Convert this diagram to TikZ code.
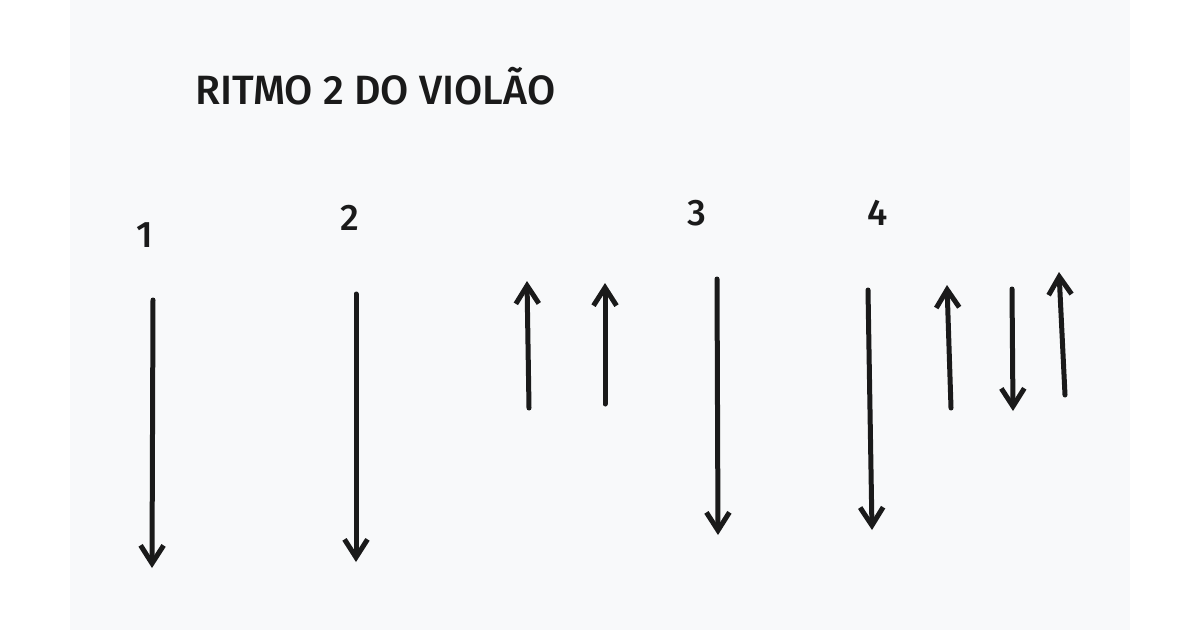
\documentclass[tikz,border=0pt]{standalone}
\usepackage{fontspec}
\setmainfont{Fira Sans Medium}
\usetikzlibrary{arrows.meta}
\definecolor{panelgray}{RGB}{248,249,250}
\definecolor{inkblack}{RGB}{26,26,26}

\begin{document}
\begin{tikzpicture}[x=0.02cm,y=-0.02cm,>={Straight Barb[length=0.36cm,width=0.46cm]},
	strum/.style={->,draw=inkblack,line width=0.1cm,line cap=round,line join=round},
	beat/.style={text=inkblack,font=\fontsize{21}{24}\selectfont,inner sep=0pt}]
	  \useasboundingbox (0,0) rectangle (1200,630);
	  \fill[white] (0,0) rectangle (1200,630);
	  \fill[panelgray] (70,0) rectangle (1130,630);

	  \node[anchor=base west,text=inkblack,inner sep=0pt,font=\fontsize{23.3}{28}\selectfont] (title) at (195,104) {RITMO 2 DO VIOLÃO};

	  \node[beat] (n1) at (145,235) {1};
	  \node[beat] (n2) at (350,218) {2};
	  \node[beat] (n3) at (697,213) {3};
	  \node[beat] (n4) at (878,213) {4};

	  % ends of the strokes
	  \coordinate (d1s) at (153,300);  \coordinate (d1e) at (152,568);
	  \coordinate (d2s) at (356,294);  \coordinate (d2e) at (356,562);
	  \coordinate (u1s) at (529,408);  \coordinate (u1e) at (527,281);
	  \coordinate (u2s) at (605,404);  \coordinate (u2e) at (605,283);
	  \coordinate (d3s) at (717,279);  \coordinate (d3e) at (718,535);
	  \coordinate (d4s) at (868,290);  \coordinate (d4e) at (872,530);
	  \coordinate (u3s) at (951,408);  \coordinate (u3e) at (947,285);
	  \coordinate (d5s) at (1012,289); \coordinate (d5e) at (1013,411);
	  \coordinate (u4s) at (1065,395); \coordinate (u4e) at (1059,272);

	  \path
		(d1s) edge[strum] (d1e)
		(d2s) edge[strum] (d2e)
		(u1s) edge[strum] (u1e)
		(u2s) edge[strum] (u2e)
		(d3s) edge[strum] (d3e)
		(d4s) edge[strum] (d4e)
		(u3s) edge[strum] (u3e)
		(d5s) edge[strum] (d5e)
		(u4s) edge[strum] (u4e)
	;
\end{tikzpicture}
\end{document}
